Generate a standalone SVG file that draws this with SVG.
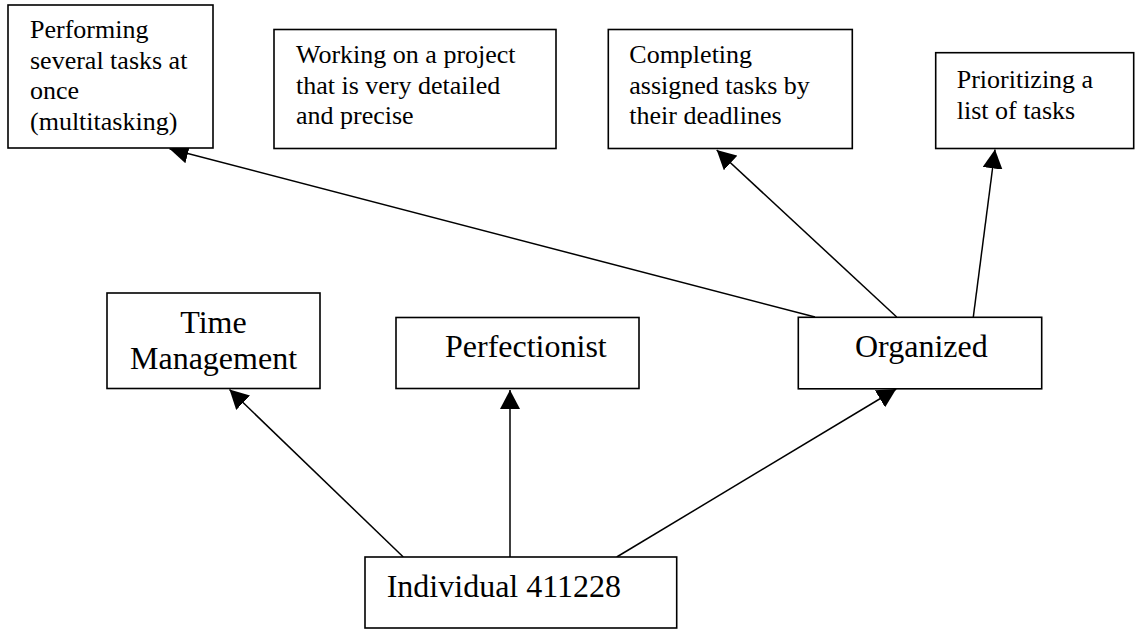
<svg xmlns="http://www.w3.org/2000/svg" width="1135" height="629" viewBox="0 0 1135 629">
<defs>
<style>
.box{fill:#fff;stroke:#000;stroke-width:1.6}
.edge{stroke:#000;stroke-width:1.5;fill:none;marker-end:url(#ah)}
.t{font-family:"Liberation Serif","Times New Roman",serif;font-size:26px;fill:#000}
.m{font-family:"Liberation Serif","Times New Roman",serif;font-size:32px;fill:#000}
</style>
<marker id="ah" viewBox="0 0 19 20" refX="19" refY="10" markerWidth="19" markerHeight="20" markerUnits="userSpaceOnUse" orient="auto">
<path d="M0,0 L19,10 L0,20 z" fill="#000"/>
</marker>
</defs>
<rect width="1135" height="629" fill="#fff"/>
<g id="connectors">
<line class="edge" x1="403.3" y1="557" x2="229.5" y2="389.5"/>
<line class="edge" x1="510" y1="557" x2="510" y2="390"/>
<line class="edge" x1="616.7" y1="557" x2="896.2" y2="389"/>
<line class="edge" x1="815" y1="317" x2="169.5" y2="148.8"/>
<line class="edge" x1="896.7" y1="317" x2="716.7" y2="150"/>
<line class="edge" x1="973.3" y1="317" x2="995" y2="149.5"/>
</g>
<g id="node-multitasking">
<rect class="box" x="8" y="5" width="205" height="143"/>
<text class="t"><tspan x="30" y="38">Performing</tspan><tspan x="30" y="68.7">several tasks at</tspan><tspan x="30" y="99.4">once</tspan><tspan x="30" y="130.1">(multitasking)</tspan></text>
</g>
<g id="node-detailed">
<rect class="box" x="274" y="29.5" width="282" height="119"/>
<text class="t"><tspan x="296" y="63">Working on a project</tspan><tspan x="296" y="93.7">that is very detailed</tspan><tspan x="296" y="124.4">and precise</tspan></text>
</g>
<g id="node-deadlines">
<rect class="box" x="608.3" y="29.5" width="244" height="119"/>
<text class="t"><tspan x="629.3" y="63">Completing</tspan><tspan x="629.3" y="93.7">assigned tasks by</tspan><tspan x="629.3" y="124.4">their deadlines</tspan></text>
</g>
<g id="node-prioritizing">
<rect class="box" x="935.7" y="52.7" width="198" height="95.8"/>
<text class="t"><tspan x="956.7" y="88">Prioritizing a</tspan><tspan x="956.7" y="118.7">list of tasks</tspan></text>
</g>
<g id="node-time">
<rect class="box" x="107" y="293" width="213" height="95.5"/>
<text class="m" text-anchor="middle"><tspan x="213.5" y="332.7">Time</tspan><tspan x="213.5" y="369.4">Management</tspan></text>
</g>
<g id="node-perfectionist">
<rect class="box" x="396" y="317.5" width="243" height="71"/>
<text class="m" x="445" y="356.7">Perfectionist</text>
</g>
<g id="node-organized">
<rect class="box" x="798.3" y="317.3" width="243.4" height="71.5"/>
<text class="m" x="855" y="357.3">Organized</text>
</g>
<g id="node-individual">
<rect class="box" x="365" y="557" width="311.7" height="71"/>
<text class="m" x="386.7" y="597.3">Individual 411228</text>
</g>
</svg>
